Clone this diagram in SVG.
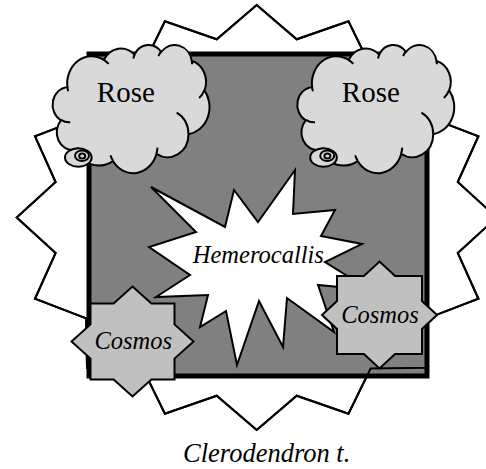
<svg xmlns="http://www.w3.org/2000/svg" xmlns:xlink="http://www.w3.org/1999/xlink" width="486" height="469" viewBox="0 0 486 469">
<style>
.big{stroke:#000;stroke-width:2;stroke-linejoin:miter}
.sq{fill:#808080;stroke:#000;stroke-width:5}
.burst{fill:#fff;stroke:#000;stroke-width:2;stroke-linejoin:miter}
.cl{fill:#d9d9d9;stroke:#000;stroke-width:2;vector-effect:non-scaling-stroke}
.curl{fill:none;stroke:#000;stroke-width:2;vector-effect:non-scaling-stroke}
.tail{fill:#d9d9d9;stroke:#000;stroke-width:2}
.cos{fill:#c0c0c0;stroke:#000;stroke-width:2;stroke-linejoin:miter}
.t{font-family:"Liberation Serif","Times New Roman",serif;fill:#000;text-anchor:middle}
.i{font-style:italic}
</style>
<defs>
<polygon id="bigStar" points="256.7,5 296.7,39.3 348.5,21.2 370.6,66.4 426.4,67.2 427.2,116.6 478.4,136.2 457.8,182.1 496.7,217.5 457.8,252.9 478.4,298.8 427.2,318.4 426.4,367.8 370.6,368.6 348.5,413.8 296.7,395.7 256.7,430 216.7,395.7 164.9,413.8 142.8,368.6 87,367.8 86.2,318.4 35,298.8 55.6,252.9 16.7,217.5 55.6,182.1 35,136.2 86.2,116.6 87,67.2 142.8,66.4 164.9,21.2 216.7,39.3"/>
<g id="cloud">
<path class="cl" d="M3900,14370 A6753,9190 0 0 1 14005,5202 A5333,7267 0 0 1 22460,3433 A4365,5945 0 0 1 29837,2482 A4857,6595 0 0 1 38322,5577 A5333,7273 0 0 1 41822,15461 A6775,9220 0 0 1 37408,30204 A5785,7867 0 0 1 28560,36814 A6752,9215 0 0 1 16485,39268 A7720,10543 0 0 1 5810,35478 A4360,5918 0 0 1 2118,25557 A4345,5945 0 0 1 3900,14370 Z"/>
<path class="curl" d="M4693,26177 A4345,5945 0 0 1 2160,25380 M6928,34899 A4360,5918 0 0 1 5820,35280 M16478,39090 A6752,9215 0 0 1 15809,37347 M28827,34751 A6752,9215 0 0 1 28560,36660 M34129,22954 A5785,7867 0 0 1 37380,30090 M41798,15354 A5333,7273 0 0 1 40349,18031 M38324,5426 A4857,6595 0 0 1 38400,6690 M29078,3952 A4857,6595 0 0 1 29820,2340 M22141,4720 A4365,5945 0 0 1 22500,3331 M14000,5192 A6753,9190 0 0 1 15305,6547 M4127,15789 A6753,9190 0 0 1 3900,14371"/>
</g>
</defs>

<g id="clerodendron">
<use href="#bigStar" class="big" fill="#fff"/>
<text class="t i" x="266.7" y="461.5" font-size="26.5">Clerodendron t.</text>
</g>

<g id="bed">
<rect class="sq" x="89" y="54" width="338" height="322"/>
</g>

<g id="clerodendron-edge">
<use href="#bigStar" class="big" fill="none"/>
</g>

<g id="connectors"></g>

<g id="hemerocallis">
<polygon class="burst" points="295,170 293,214 335,210 321,236 362,244 325,262 370,290 318,285 334,332 287,298 283,347 259,301 237,365 226,311 200,327 208,295 156,297 190,275 149,247 196,232 151,187 225,227 234,190 258,222"/>
<text class="t i" x="258.3" y="263.3" font-size="24.5">Hemerocallis</text>
</g>

<g id="cosmos-left">
<polygon class="cos" points="132.5,286.5 151.4,303.5 174.5,303.5 174.5,324.4 193.5,341.5 174.5,358.6 174.5,379.5 151.4,379.5 132.5,396.5 113.6,379.5 90.5,379.5 90.5,358.6 71.5,341.5 90.5,324.4 90.5,303.5 113.6,303.5"/>
<text class="t i" x="133.3" y="349" font-size="24.5">Cosmos</text>
</g>

<g id="cosmos-right">
<polygon class="cos" points="379.5,261.5 395.1,276 422,276 422,301 437,315 422,329 422,354 395.1,354 379.5,368.5 363.9,354 337,354 337,329 322,315 337,301 337,276 363.9,276"/>
<text class="t i" x="380" y="323" font-size="24.5">Cosmos</text>
</g>

<g id="rose-left">
<use href="#cloud" transform="translate(53.3,44.5) scale(0.003615,0.002968)"/>
<ellipse class="tail" cx="78.3" cy="157.5" rx="13.3" ry="9.2"/>
<ellipse class="tail" cx="82" cy="155.8" rx="7" ry="5.3"/>
<ellipse class="tail" cx="82.2" cy="156" rx="3" ry="2.5"/>
<text class="t" x="125.8" y="101.7" font-size="29">Rose</text>
</g>

<g id="rose-right">
<use href="#cloud" transform="translate(298,44.5) scale(0.003615,0.002968)"/>
<ellipse class="tail" cx="323.5" cy="157.5" rx="13.3" ry="9.2"/>
<ellipse class="tail" cx="327.2" cy="155.8" rx="7" ry="5.3"/>
<ellipse class="tail" cx="327.4" cy="156" rx="3" ry="2.5"/>
<text class="t" x="370.8" y="101.7" font-size="29">Rose</text>
</g>
</svg>
